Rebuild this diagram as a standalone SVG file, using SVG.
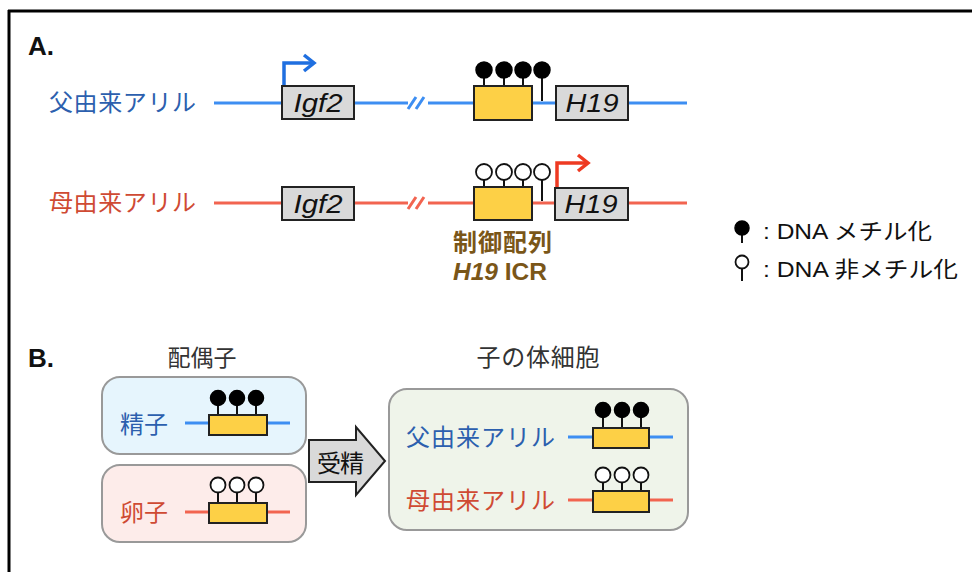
<svg xmlns="http://www.w3.org/2000/svg" width="972" height="572" viewBox="0 0 972 572">
<defs>
<style>
.jp{font-family:"Noto Sans CJK JP","Liberation Sans",sans-serif;}
.lat{font-family:"Liberation Sans","Noto Sans CJK JP",sans-serif;}
.blue{fill:#2c5fae;}
.red{fill:#cf4a33;}
.dark{fill:#333333;}
.gene{fill:#d9d9d9;stroke:#222;stroke-width:2;}
.icr{fill:#fdd046;stroke:#222;stroke-width:2;}
.pl{stroke:#3d8ef2;stroke-width:3;fill:none;}
.ml{stroke:#f26450;stroke-width:3;fill:none;}
.stem{stroke:#111;stroke-width:2;fill:none;}
.me{fill:#000;stroke:#000;stroke-width:1.5;}
.un{fill:#fff;stroke:#111;stroke-width:1.8;}
.gi{font-family:"Liberation Sans",sans-serif;font-style:italic;font-size:25px;fill:#111;}
</style>
</defs>
<rect width="972" height="572" fill="#fff"/>
<g id="frame">
<line x1="8" y1="11" x2="972" y2="11" stroke="#000" stroke-width="3"/>
<line x1="9" y1="10" x2="9" y2="572" stroke="#000" stroke-width="3"/>
</g>
<text x="28" y="55" class="lat" font-size="26" font-weight="bold" fill="#111">A.</text>
<g id="connectors">
<line class="pl" x1="214" y1="103" x2="687" y2="103"/>
<line x1="408" y1="103" x2="428" y2="103" stroke="#fff" stroke-width="5"/>
<path class="pl" d="M408 109 L416 97 M416 109 L424 97" stroke-width="2.5"/>
<line class="ml" x1="214" y1="203" x2="687" y2="203"/>
<line x1="408" y1="203" x2="428" y2="203" stroke="#fff" stroke-width="5"/>
<path class="ml" d="M408 209 L416 197 M416 209 L424 197" stroke-width="2.5"/>
<path d="M284 86 V63 H312" stroke="#1f6fe0" stroke-width="3.5" fill="none"/>
<path d="M304 55 L314 63 L304 71" stroke="#1f6fe0" stroke-width="3.5" fill="none"/>
<path d="M557 188 V163 H586" stroke="#ee3a22" stroke-width="3.5" fill="none"/>
<path d="M578 155 L588 163 L578 171" stroke="#ee3a22" stroke-width="3.5" fill="none"/>
</g>
<g id="paternal">
<text x="49" y="111" class="jp blue" font-size="24" textLength="147" lengthAdjust="spacing">父由来アリル</text>
<rect class="gene" x="282" y="86" width="72" height="33"/>
<text class="gi" x="318" y="112" text-anchor="middle" textLength="49" lengthAdjust="spacingAndGlyphs">Igf2</text>
<path class="stem" d="M484 70 V86 M504 70 V86 M523 70 V86 M542 70 V101"/>
<circle class="me" cx="484" cy="70" r="8"/>
<circle class="me" cx="504" cy="70" r="8"/>
<circle class="me" cx="523" cy="70" r="8"/>
<circle class="me" cx="542" cy="70" r="8"/>
<rect class="icr" x="474" y="86" width="58" height="34"/>
<rect class="gene" x="556" y="86" width="72" height="34"/>
<text class="gi" x="592" y="112" text-anchor="middle" textLength="53" lengthAdjust="spacingAndGlyphs">H19</text>
</g>
<g id="maternal">
<text x="49" y="211" class="jp red" font-size="24" textLength="147" lengthAdjust="spacing">母由来アリル</text>
<rect class="gene" x="282" y="187" width="72" height="33"/>
<text class="gi" x="318" y="213" text-anchor="middle" textLength="49" lengthAdjust="spacingAndGlyphs">Igf2</text>
<path class="stem" d="M484 172 V187 M504 172 V187 M523 172 V187 M542 172 V201"/>
<circle class="un" cx="484" cy="172" r="8"/>
<circle class="un" cx="504" cy="172" r="8"/>
<circle class="un" cx="523" cy="172" r="8"/>
<circle class="un" cx="542" cy="172" r="8"/>
<rect class="icr" x="474" y="187" width="58" height="33"/>
<rect class="gene" x="555" y="188" width="73" height="32"/>
<text class="gi" x="591" y="213" text-anchor="middle" textLength="53" lengthAdjust="spacingAndGlyphs">H19</text>
</g>
<g id="icr-label" fill="#7a5618" font-weight="bold">
<text x="453" y="251" class="jp" font-size="24" textLength="99" lengthAdjust="spacing">制御配列</text>
<text x="453" y="280" class="lat" font-size="24" textLength="94" lengthAdjust="spacingAndGlyphs"><tspan font-style="italic">H19</tspan> ICR</text>
</g>
<g id="legend">
<line class="stem" x1="742" y1="228" x2="742" y2="243" stroke-width="2.5"/>
<circle class="me" cx="742" cy="228" r="7"/>
<text x="763" y="239" class="lat" font-size="22" fill="#111" textLength="169" lengthAdjust="spacingAndGlyphs">: DNA <tspan class="jp">メチル化</tspan></text>
<line class="stem" x1="742" y1="262" x2="742" y2="281" stroke-width="2.5"/>
<circle class="un" cx="742" cy="262" r="6.5" stroke-width="2.2"/>
<text x="763" y="277" class="lat" font-size="22" fill="#111" textLength="195" lengthAdjust="spacingAndGlyphs">: DNA <tspan class="jp">非メチル化</tspan></text>
</g>
<text x="28" y="367" class="lat" font-size="26" font-weight="bold" fill="#111">B.</text>
<text x="202" y="366" class="jp dark" font-size="23" text-anchor="middle">配偶子</text>
<text x="538" y="366" class="jp dark" font-size="24" text-anchor="middle" textLength="123" lengthAdjust="spacing">子の体細胞</text>
<g id="sperm">
<rect x="102" y="377" width="204" height="77" rx="18" fill="#e6f5fd" stroke="#999" stroke-width="2"/>
<text x="120" y="433" class="jp blue" font-size="24" textLength="48" lengthAdjust="spacing">精子</text>
<line class="pl" x1="185" y1="423" x2="290" y2="423"/>
<path class="stem" d="M218 398 V415 M237 398 V415 M256 398 V415"/>
<circle class="me" cx="218" cy="398" r="7.5"/>
<circle class="me" cx="237" cy="398" r="7.5"/>
<circle class="me" cx="256" cy="398" r="7.5"/>
<rect class="icr" x="209" y="415" width="58" height="20"/>
</g>
<g id="egg">
<rect x="102" y="465" width="204" height="77" rx="18" fill="#fdecea" stroke="#999" stroke-width="2"/>
<text x="120" y="521" class="jp red" font-size="24" textLength="48" lengthAdjust="spacing">卵子</text>
<line class="ml" x1="185" y1="512" x2="290" y2="512"/>
<path class="stem" d="M218 485 V503 M237 485 V503 M256 485 V503"/>
<circle class="un" cx="218" cy="485" r="7.5"/>
<circle class="un" cx="237" cy="485" r="7.5"/>
<circle class="un" cx="256" cy="485" r="7.5"/>
<rect class="icr" x="209" y="503" width="58" height="20"/>
</g>
<g id="fertilization">
<path d="M309 440 H356 V427 L385 461 L356 495 V482 H309 Z" fill="#d9d9d9" stroke="#222" stroke-width="2"/>
<text x="317" y="472" class="jp" font-size="24" fill="#111" textLength="47" lengthAdjust="spacing">受精</text>
</g>
<g id="somatic">
<rect x="389" y="389" width="299" height="141" rx="18" fill="#eff4ea" stroke="#999" stroke-width="2"/>
<text x="406" y="446" class="jp blue" font-size="24" textLength="149" lengthAdjust="spacing">父由来アリル</text>
<line class="pl" x1="568" y1="437" x2="673" y2="437"/>
<path class="stem" d="M603 410 V428 M622 410 V428 M641 410 V428"/>
<circle class="me" cx="603" cy="410" r="7.5"/>
<circle class="me" cx="622" cy="410" r="7.5"/>
<circle class="me" cx="641" cy="410" r="7.5"/>
<rect class="icr" x="593" y="428" width="56" height="20"/>
<text x="406" y="509" class="jp red" font-size="24" textLength="149" lengthAdjust="spacing">母由来アリル</text>
<line class="ml" x1="568" y1="500" x2="673" y2="500"/>
<path class="stem" d="M603 475 V491 M622 475 V491 M641 475 V491"/>
<circle class="un" cx="603" cy="475" r="7.5"/>
<circle class="un" cx="622" cy="475" r="7.5"/>
<circle class="un" cx="641" cy="475" r="7.5"/>
<rect class="icr" x="593" y="491" width="56" height="21"/>
</g>
</svg>
